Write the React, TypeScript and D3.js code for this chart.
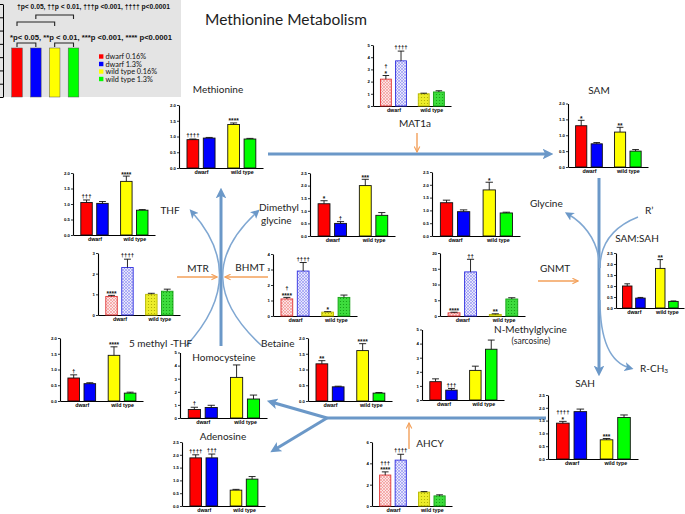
import React, { useEffect, useRef } from "react";
import * as d3 from "d3";

const groups = ["dwarf 0.16%", "dwarf 1.3%", "wild type 0.16%", "wild type 1.3%"];
const strains = ["dwarf", "wild type"];
const barColors = ["#ff0000", "#0000ff", "#ffff00", "#00ff00"];

const daggerKey = "†p< 0.05, ††p < 0.01, †††p <0.001, †††† p<0.0001";
const starKey = "*p< 0.05, **p < 0.01,  ***p <0.001, **** p<0.0001";

// metabolites and enzymes, mean / sem / significance marks (top line first)
const methionine = [0.9, 0.95, 1.38, 0.92];
const methionineErr = [0.02, 0.02, 0.05, 0.02];
const methionineSig = ["††††", "", "****", ""];

const mat1a = [2.2, 3.7, 1.0, 1.15];
const mat1aErr = [0.3, 0.8, 0.05, 0.1];
const mat1aSig = ["†\n*", "††††", "", ""];

const sam = [1.3, 0.73, 1.1, 0.5];
const samErr = [0.17, 0.04, 0.15, 0.05];
const samSig = ["*", "", "**", ""];

const thf = [1.05, 1.02, 1.73, 0.8];
const thfErr = [0.08, 0.06, 0.17, 0.02];
const thfSig = ["†††", "", "****", ""];

const dimethylglycine = [1.28, 0.5, 2.0, 0.82];
const dimethylglycineErr = [0.12, 0.07, 0.25, 0.11];
const dimethylglycineSig = ["*", "†", "***", ""];

const glycine = [1.3, 0.95, 1.8, 0.9];
const glycineErr = [0.1, 0.07, 0.3, 0.03];
const glycineSig = ["", "", "*", ""];

const samSah = [1.0, 0.45, 1.8, 0.3];
const samSahErr = [0.1, 0.03, 0.4, 0.02];
const samSahSig = ["", "", "**", ""];

const mtr = [0.9, 2.3, 1.0, 1.15];
const mtrErr = [0.05, 0.4, 0.05, 0.1];
const mtrSig = ["****", "††††", "", ""];

const bhmt = [1.1, 2.9, 0.25, 1.2];
const bhmtErr = [0.1, 0.55, 0.03, 0.15];
const bhmtSig = ["†\n****", "††††", "*", ""];

const gnmt = [1.0, 14, 0.5, 5.4];
const gnmtErr = [0.2, 4, 0.2, 0.4];
const gnmtSig = ["****", "††", "**", ""];

const methylThf = [0.73, 0.55, 1.45, 0.25];
const methylThfErr = [0.1, 0.03, 0.27, 0.03];
const methylThfSig = ["†", "", "****", ""];

const homocysteine = [0.65, 0.8, 3.1, 1.45];
const homocysteineErr = [0.17, 0.17, 0.95, 0.3];
const homocysteineSig = ["†", "", "", ""];

const betaine = [1.18, 0.45, 1.6, 0.25];
const betaineErr = [0.1, 0.02, 0.22, 0.02];
const betaineSig = ["**", "", "****", ""];

const sarcosine = [1.3, 0.7, 2.1, 3.6];
const sarcosineErr = [0.2, 0.12, 0.3, 0.65];
const sarcosineSig = ["", "†††", "", ""];

const adenosine = [1.88, 1.88, 0.62, 1.05];
const adenosineErr = [0.12, 0.15, 0.03, 0.1];
const adenosineSig = ["††††", "†††", "", ""];

const ahcy = [2.9, 4.3, 1.3, 0.95];
const ahcyErr = [0.3, 0.55, 0.05, 0.1];
const ahcySig = ["†††\n****", "††††", "", ""];

const sah = [1.4, 1.85, 0.75, 1.62];
const sahErr = [0.07, 0.1, 0.05, 0.1];
const sahSig = ["††††\n*", "", "***", ""];

// where each little chart sits (axis origin, axis length, pixel height of max)
const panels = [
  { v: methionine, e: methionineErr, s: methionineSig, max: 2, step: 0.5, x: 179, y: 168, w: 84, h: 63 },
  { v: mat1a, e: mat1aErr, s: mat1aSig, max: 5, step: 1, x: 373, y: 106, w: 78, h: 61, hatch: true },
  { v: sam, e: samErr, s: samSig, max: 2, step: 0.5, x: 568, y: 167, w: 80, h: 63.5 },
  { v: thf, e: thfErr, s: thfSig, max: 2, step: 0.5, x: 73, y: 235, w: 82, h: 62 },
  { v: dimethylglycine, e: dimethylglycineErr, s: dimethylglycineSig, max: 2.5, step: 0.5, x: 310, y: 236, w: 85, h: 63 },
  { v: glycine, e: glycineErr, s: glycineSig, max: 2.5, step: 0.5, x: 432, y: 236, w: 88, h: 64 },
  { v: samSah, e: samSahErr, s: samSahSig, max: 2.5, step: 0.5, x: 616, y: 308, w: 68, h: 55 },
  { v: mtr, e: mtrErr, s: mtrSig, max: 3, step: 1, x: 98, y: 315, w: 82, h: 62, hatch: true },
  { v: bhmt, e: bhmtErr, s: bhmtSig, max: 4, step: 1, x: 273, y: 316, w: 84, h: 62, hatch: true },
  { v: gnmt, e: gnmtErr, s: gnmtSig, max: 20, step: 5, x: 440, y: 316, w: 85, h: 63, hatch: true },
  { v: methylThf, e: methylThfErr, s: methylThfSig, max: 2, step: 0.5, x: 60, y: 401, w: 83, h: 63 },
  { v: homocysteine, e: homocysteineErr, s: homocysteineSig, max: 5, step: 1, x: 180, y: 418, w: 87, h: 65.5 },
  { v: betaine, e: betaineErr, s: betaineSig, max: 2, step: 0.5, x: 308, y: 401, w: 84, h: 63 },
  { v: sarcosine, e: sarcosineErr, s: sarcosineSig, max: 5, step: 1, x: 422, y: 400, w: 82, h: 70.5 },
  { v: adenosine, e: adenosineErr, s: adenosineSig, max: 2.5, step: 0.5, x: 182, y: 506, w: 83, h: 64 },
  { v: ahcy, e: ahcyErr, s: ahcySig, max: 6, step: 2, x: 372, y: 506, w: 80, h: 64, hatch: true },
  { v: sah, e: sahErr, s: sahSig, max: 2.5, step: 0.5, x: 548, y: 459, w: 90, h: 64 },
];

const labels = [
  { t: "Methionine", x: 218, y: 89, a: "middle" },
  { t: "SAM", x: 599, y: 90, a: "middle" },
  { t: "MAT1a", x: 415, y: 123, a: "middle" },
  { t: "THF", x: 170, y: 210, a: "middle" },
  { t: "Dimethyl", x: 259, y: 207, a: "start" },
  { t: "glycine", x: 261, y: 220, a: "start" },
  { t: "Glycine", x: 530, y: 203, a: "start" },
  { t: "R’", x: 645, y: 210, a: "start" },
  { t: "SAM:SAH", x: 637, y: 238, a: "middle" },
  { t: "MTR", x: 198, y: 268, a: "middle" },
  { t: "BHMT", x: 250, y: 267, a: "middle" },
  { t: "GNMT", x: 540, y: 268, a: "start" },
  { t: "5 methyl -THF", x: 129, y: 343, a: "start" },
  { t: "Betaine", x: 261, y: 343, a: "start" },
  { t: "Homocysteine", x: 224, y: 357, a: "middle" },
  { t: "N-Methylglycine", x: 494, y: 329, a: "start" },
  { t: "SAH", x: 585, y: 383, a: "middle" },
  { t: "Adenosine", x: 223, y: 436, a: "middle" },
  { t: "AHCY", x: 430, y: 443, a: "middle" },
];

const slots = [0, 1, 2.5, 3.5];

export default function App() {
  const svgRef = useRef<SVGSVGElement>(null);

  useEffect(() => {
    const svg = d3.select(svgRef.current);
    svg.selectAll("*").remove();
    const defs = svg.append("defs");

    // hatched fills for the protein charts
    const hatchBg = ["#fbe4e4", "#e6e6fb", "#eded2a", "#3ddc3d"];
    const hatchInk = ["#f07a7a", "#7a7af0", "#a8a800", "#119911"];
    hatchBg.forEach((bg, i) => {
      const pt = defs.append("pattern").attr("id", `hatch${i}`).attr("patternUnits", "userSpaceOnUse")
        .attr("width", 3).attr("height", 3);
      pt.append("rect").attr("width", 3).attr("height", 3).attr("fill", bg);
      if (i < 2) {
        pt.append("path").attr("d", "M0,0L3,3M3,0L0,3").attr("stroke", hatchInk[i]).attr("stroke-width", 0.5);
      } else {
        pt.append("circle").attr("cx", 1.5).attr("cy", 1.5).attr("r", 0.6).attr("fill", hatchInk[i]);
      }
    });

    const blueHead = defs.append("marker").attr("id", "blueHead").attr("viewBox", "0 0 10 10")
      .attr("refX", 6).attr("refY", 5).attr("markerWidth", 3.6).attr("markerHeight", 3.6).attr("orient", "auto");
    blueHead.append("path").attr("d", "M0,0L10,5L0,10L2.5,5Z").attr("fill", "#6b98c8");
    const thinHead = defs.append("marker").attr("id", "thinHead").attr("viewBox", "0 0 10 10")
      .attr("refX", 6).attr("refY", 5).attr("markerWidth", 6).attr("markerHeight", 6).attr("orient", "auto");
    thinHead.append("path").attr("d", "M0,0L10,5L0,10L2.5,5Z").attr("fill", "#6b98c8");
    const orangeHead = defs.append("marker").attr("id", "orangeHead").attr("viewBox", "0 0 10 10")
      .attr("refX", 9).attr("refY", 5).attr("markerWidth", 5).attr("markerHeight", 5).attr("orient", "auto");
    orangeHead.append("path").attr("d", "M1,1L9,5L1,9").attr("fill", "none").attr("stroke", "#f3a05a").attr("stroke-width", 1.6);

    // ---- legend inset
    const inset = svg.append("g");
    inset.append("rect").attr("x", 0).attr("y", 0).attr("width", 181).attr("height", 97).attr("fill", "#e4e4e4");
    const insetY = d3.scaleLinear().domain([0, 7]).range([97, 4]);
    inset.append("g").attr("transform", "translate(3,0)")
      .call(d3.axisLeft(insetY).ticks(7).tickSize(3).tickFormat(() => "").tickSizeOuter(0))
      .call(a => a.select(".domain").attr("stroke-width", 1));
    const insetX = d3.scalePoint().domain(groups).range([17, 73.5]);
    inset.selectAll("rect.kb").data(groups).join("rect").attr("class", "kb")
      .attr("x", d => (insetX(d) as number) - 5.3).attr("y", 48).attr("width", 10.6).attr("height", 49)
      .attr("fill", (d, i) => barColors[i]).attr("stroke", "#555").attr("stroke-width", 0.5);
    const bracket = (x1: number, x2: number, y: number) =>
      inset.append("path").attr("d", `M${x1},${y + 4}V${y}H${x2}V${y + 4}`).attr("fill", "none").attr("stroke", "#222").attr("stroke-width", 1.1);
    bracket(insetX(groups[1]) as number, insetX(groups[3]) as number, 15);
    bracket(insetX(groups[0]) as number, insetX(groups[2]) as number, 22);
    bracket(insetX(groups[0]) as number, insetX(groups[1]) as number, 43);
    bracket(insetX(groups[2]) as number, insetX(groups[3]) as number, 43);
    inset.append("text").text(daggerKey).attr("x", 17).attr("y", 9).attr("font-size", 6.5).attr("font-weight", "bold")
      .attr("font-family", "Liberation Sans, Arial").attr("textLength", 153).attr("lengthAdjust", "spacingAndGlyphs").attr("fill", "#111");
    inset.append("text").text(starKey).attr("x", 10).attr("y", 39.5).attr("font-size", 6.5).attr("font-weight", "bold")
      .attr("font-family", "Liberation Sans, Arial").attr("textLength", 162).attr("lengthAdjust", "spacingAndGlyphs").attr("fill", "#111");
    const keyY = d3.scalePoint().domain(groups).range([56.5, 79]);
    groups.forEach((gname, i) => {
      inset.append("rect").attr("x", 99).attr("y", (keyY(gname) as number) - 2.2).attr("width", 4.4).attr("height", 4.4).attr("fill", barColors[i]);
      inset.append("text").text(gname).attr("x", 105.5).attr("y", keyY(gname) as number).attr("dy", "0.35em")
        .attr("font-size", 7.3).attr("font-family", "Lato, Liberation Sans").attr("fill", "#111");
    });

    // ---- pathway arrows
    const arrows = svg.append("g").attr("fill", "none");
    const thick = (d: string) => arrows.append("path").attr("d", d).attr("stroke", "#6b98c8").attr("stroke-width", 3).attr("marker-end", "url(#blueHead)");
    const thin = (d: string, head = true) => {
      const p = arrows.append("path").attr("d", d).attr("stroke", "#7fa7d2").attr("stroke-width", 1.5);
      if (head) p.attr("marker-end", "url(#thinHead)");
    };
    const orange = (d: string) => arrows.append("path").attr("d", d).attr("stroke", "#f3a05a").attr("stroke-width", 1.4).attr("marker-end", "url(#orangeHead)");

    thick("M268,154H549");
    thick("M599,178V372");
    thick("M221,346V192");
    arrows.append("path").attr("d", "M546,418H327").attr("stroke", "#6b98c8").attr("stroke-width", 3);
    thick("M327,418L271,402");
    thick("M327,418L274,450");

    thin("M186,346Q250,277 192,212");
    thin("M262,346Q186,277 257,212");
    thin("M638,217Q600,232 600,268", false);
    thin("M600,268Q598,232 568,214");
    thin("M600,300Q600,360 630,368");

    orange("M417,133V152");
    orange("M177,277H217");
    orange("M268,277H225");
    orange("M538,281H578");
    orange("M409,449V423");

    // ---- node names
    const names = svg.append("g").attr("font-family", "Lato, 'Open Sans', sans-serif").attr("fill", "#1c1c1c");
    names.append("text").text("Methionine Metabolism").attr("x", 205).attr("y", 20).attr("dy", "0.35em").attr("font-size", 15.5);
    labels.forEach(l => {
      names.append("text").text(l.t).attr("x", l.x).attr("y", l.y).attr("dy", "0.35em")
        .attr("text-anchor", l.a).attr("font-size", 10);
    });
    names.append("text").text("(sarcosine)").attr("x", 531).attr("y", 341).attr("dy", "0.35em")
      .attr("text-anchor", "middle").attr("font-size", 8.5);
    const rch = names.append("text").attr("x", 640).attr("y", 368).attr("dy", "0.35em").attr("font-size", 10);
    rch.append("tspan").text("R-CH");
    rch.append("tspan").text("3").attr("font-size", 6.5).attr("dy", "0.3em");

    // ---- small bar charts
    panels.forEach(p => {
      const g = svg.append("g");
      const ys = d3.scaleLinear().domain([0, p.max]).range([p.y, p.y - p.h]);
      const xs = d3.scaleLinear().domain([-0.85, 4.3]).range([p.x, p.x + p.w]);
      const bw = (xs(1) - xs(0)) * 0.72;

      const ya = d3.axisLeft(ys).tickValues(d3.range(0, p.max + p.step / 2, p.step))
        .tickSize(2).tickSizeOuter(0).tickPadding(1)
        .tickFormat(p.step < 1 ? d3.format(".1f") : d3.format("d"));
      g.append("g").attr("transform", `translate(${p.x},0)`).call(ya)
        .attr("font-size", 4.3).attr("font-weight", "bold").attr("font-family", "Liberation Sans, Arial")
        .call(a => a.select(".domain").attr("stroke-width", 1.1))
        .call(a => a.selectAll(".tick line").attr("stroke-width", 0.8));

      const xa = d3.axisBottom(xs).tickValues([0.5, 3]).tickSize(0).tickSizeOuter(0).tickPadding(2.5)
        .tickFormat((d, i) => strains[i]);
      g.append("g").attr("transform", `translate(0,${p.y})`).call(xa)
        .attr("font-size", 5.3).attr("font-weight", "bold").attr("font-family", "Liberation Sans, Arial")
        .call(a => a.select(".domain").attr("stroke-width", 1.1));

      g.selectAll("rect.bar").data(p.v).join("rect").attr("class", "bar")
        .attr("x", (d, i) => xs(slots[i]) - bw / 2).attr("y", d => ys(d))
        .attr("width", bw).attr("height", d => p.y - ys(d))
        .attr("fill", (d, i) => (p.hatch ? `url(#hatch${i})` : barColors[i]))
        .attr("stroke", (d, i) => (p.hatch ? ["#e03030", "#3030e0", "#b8b800", "#16a016"][i] : "#111"))
        .attr("stroke-width", 0.9);

      const eg = g.append("g").attr("stroke", "#111").attr("stroke-width", 0.9);
      p.v.forEach((d, i) => {
        const cx = xs(slots[i]);
        const top = ys(d + p.e[i]);
        eg.append("line").attr("x1", cx).attr("x2", cx).attr("y1", ys(d)).attr("y2", top);
        eg.append("line").attr("x1", cx - bw * 0.3).attr("x2", cx + bw * 0.3).attr("y1", top).attr("y2", top);
        const lines = p.s[i] ? p.s[i].split("\n") : [];
        lines.reverse().forEach((ln, k) => {
          const star = ln.startsWith("*");
          g.append("text").text(ln).attr("x", cx).attr("y", top - 1.8 - k * 5.5 + (star ? 2.2 : 0))
            .attr("text-anchor", "middle").attr("font-size", star ? 6.5 : 6).attr("font-weight", "bold")
            .attr("font-family", "Liberation Sans, Arial").attr("fill", "#111");
        });
      });
    });
  }, []);

  return (
    <div style={{ position: "absolute", left: 0, top: 0 }}>
      <svg ref={svgRef} width={685} height={514} style={{ display: "block", background: "#fff" }} />
    </div>
  );
}
